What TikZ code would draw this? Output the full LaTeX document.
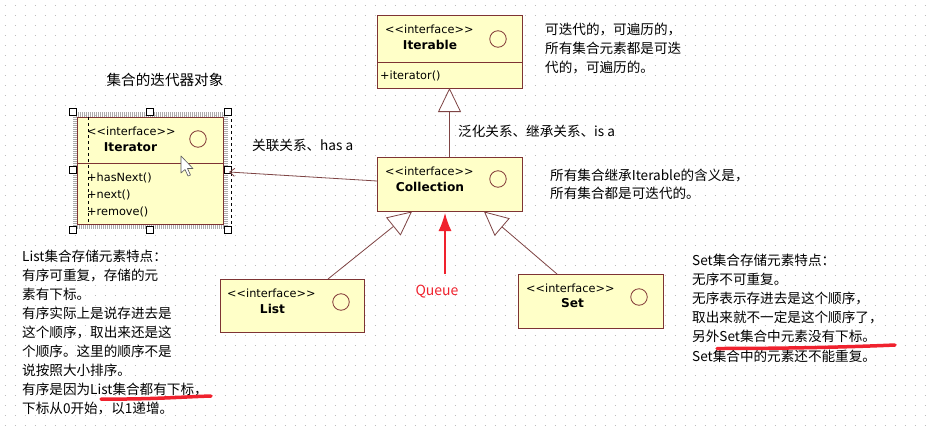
\documentclass[tikz,border=0pt]{standalone}
\usepackage{fontspec}
\newfontfamily\cjk{Noto Sans CJK SC}
\newfontfamily\umlf{DejaVu Sans}
\usetikzlibrary{arrows.meta}
\definecolor{boxfill}{HTML}{FFFFC8}
\definecolor{boxline}{HTML}{7E3434}
\definecolor{conn}{HTML}{7E4444}
\definecolor{redmark}{HTML}{F0222E}
\definecolor{dotc}{HTML}{BEBEBE}
\tikzset{
  umlbox/.style={draw=boxline, fill=boxfill, line width=0.9pt, inner sep=0pt, anchor=north west},
  stereo/.style={font=\umlf\fontsize{11.3}{13}\selectfont, inner sep=0pt, anchor=base west},
  cname/.style={font=\umlf\bfseries\fontsize{12.2}{14}\selectfont, inner sep=0pt, anchor=base},
  meth/.style={font=\umlf\fontsize{11.3}{13}\selectfont, inner sep=0pt, anchor=base west},
  icon/.style={draw=boxline, line width=0.8pt, circle, minimum size=16.5pt, inner sep=0pt},
  note/.style={font=\cjk\fontsize{13.6}{19}\selectfont, inner sep=0pt, anchor=north west, align=left},
  lbl/.style={font=\cjk\fontsize{13.6}{16}\selectfont, inner sep=0pt, anchor=west},
  gen/.style={draw=conn, line width=0.8pt, -{Triangle[length=24pt,width=23pt,fill=white]}},
  handle/.style={draw=black, fill=white, line width=0.6pt, minimum size=7pt, inner sep=0pt},
}
\begin{document}
\begin{tikzpicture}[x=1pt,y=-1pt]
\useasboundingbox (0,0) rectangle (928,431);
\fill[white] (0,0) rectangle (928,431);
% dotted grid
\foreach \yy in {5,15,...,425}
  \draw[dotc, line width=1pt, dash pattern=on 1pt off 9pt] (4.5,\yy) -- (928,\yy);

% ===== Iterable =====
\node[umlbox, minimum width=145pt, minimum height=73pt] (iterable) at (377,15) {};
\draw[boxline, line width=0.9pt] (377,62) -- (522,62);
\node[stereo] (itbS) at (385,33.5) {<\kern0pt<interface>\kern0pt>};
\node[cname] (itbN) at (430,49.5) {Iterable};
\node[icon] (itbC) at (498,39) {};
\node[meth] (itbM) at (380,79.5) {+iterator()};

% ===== Iterator (selected) =====
\draw[gray!65, line width=4.5pt, dash pattern=on 1pt off 1pt] (75,114.5) rectangle (225.5,227);
\node[umlbox, minimum width=146pt, minimum height=107pt] (iterator) at (77,117) {};
\draw[boxline, line width=0.9pt] (77,163) -- (223,163);
\draw[black, line width=0.6pt, dashed] (88,117) -- (88,224);
\draw[black, line width=0.6pt, dashed] (231,113) -- (231,229);
\node[stereo] (itrS) at (87,135.5) {<\kern0pt<interface>\kern0pt>};
\node[cname] (itrN) at (130.5,151.5) {Iterator};
\node[icon] (itrC) at (198,139) {};
\node[meth] (itrM1) at (87,181.5) {+hasNext()};
\node[meth] (itrM2) at (87,198.5) {+next()};
\node[meth] (itrM3) at (87,215.5) {+remove()};
\foreach \hx/\hy/\hn in {73/112/h1,150/112/h2,228/112/h3,73/170/h4,228/170/h5,73/230/h6,150/230/h7,228/230/h8}
  \node[handle] (\hn) at (\hx,\hy) {};
% mouse cursor
\draw[fill=white, draw=gray!70!black, line width=0.6pt, line join=round]
  (181,156) -- (181,173) -- (185,169.5) -- (188,176) -- (190.5,175) -- (187.5,168.5) -- (193,168.5) -- cycle;

% ===== Collection =====
\node[umlbox, minimum width=145pt, minimum height=54pt] (coll) at (377,157) {};
\node[stereo] (colS) at (385,175.5) {<\kern0pt<interface>\kern0pt>};
\node[cname] (colN) at (430,191.5) {Collection};
\node[icon] (colC) at (498,179) {};

% ===== List =====
\node[umlbox, minimum width=144pt, minimum height=53pt] (list) at (220,279) {};
\node[stereo] (lstS) at (227,297.5) {<\kern0pt<interface>\kern0pt>};
\node[cname] (lstN) at (272.5,313.5) {List};
\node[icon] (lstC) at (341,302) {};

% ===== Set =====
\node[umlbox, minimum width=145pt, minimum height=54pt] (set) at (518,274) {};
\node[stereo] (setS) at (526,292.5) {<\kern0pt<interface>\kern0pt>};
\node[cname] (setN) at (572.5,307.5) {Set};
\node[icon] (setC) at (639,297) {};

% ===== connectors =====
\coordinate (colTop) at (449.5,157);
\coordinate (itbBot) at (449.5,88);
\draw[gen] (colTop) -- (itbBot);

\coordinate (lstTop) at (328,279);
\coordinate (colBL) at (412,211.5);
\draw[gen] (lstTop) -- (colBL);

\coordinate (setTop) at (557,274);
\coordinate (colBR) at (484,211.5);
\draw[gen] (setTop) -- (colBR);

\coordinate (assocA) at (377,181);
\coordinate (assocB) at (229,172);
\draw[conn, line width=0.8pt, -{Straight Barb[length=5pt,width=8pt]}] (assocA) -- (assocB);

% Queue red arrow
\node[font=\cjk\fontsize{14}{16}\selectfont, text=redmark, inner sep=0pt] (queue) at (437,292) {Queue};
\coordinate (qTail) at (445,274);
\coordinate (qTip) at (445,213);
\draw[redmark, line width=1.3pt, -{Latex[length=18pt,width=13pt]}] (qTail) -- (qTip);

% ===== labels =====
\node[font=\cjk\fontsize{14.6}{17}\selectfont, inner sep=0pt] (itrTitle) at (165,80) {集合的迭代器对象};
\node[lbl] (assocL) at (252,145) {关联关系、has a};
\node[lbl] (genL) at (458,131) {泛化关系、继承关系、is a};

\node[note] (n1) at (545,22.5) {可迭代的，可遍历的，\\所有集合元素都是可迭\\代的，可遍历的。};
\node[note, font=\cjk\fontsize{13.6}{18.5}\selectfont] (n2) at (550,168.5) {所有集合继承Iterable的含义是，\\所有集合都是可迭代的。};
\node[note, font=\cjk\fontsize{13.6}{19.1}\selectfont] (n3) at (22,249.5) {List集合存储元素特点：\\有序可重复，存储的元\\素有下标。\\有序实际上是说存进去是\\这个顺序，取出来还是这\\个顺序。这里的顺序不是\\说按照大小排序。\\有序是因为List集合都有下标，\\下标从0开始，以1递增。};
\node[note, font=\cjk\fontsize{13.6}{19.2}\selectfont] (n4) at (692,253.5) {Set集合存储元素特点：\\无序不可重复。\\无序表示存进去是这个顺序，\\取出来就不一定是这个顺序了，\\另外Set集合中元素没有下标。\\Set集合中的元素还不能重复。};

% red underlines
\draw[redmark, line width=3.5pt, line cap=round] (101,399) .. controls (150,399.5) and (180,397) .. (211,396);
\draw[redmark, line width=3.5pt, line cap=round] (717,348.5) .. controls (790,348.5) and (850,347) .. (895,345);
\end{tikzpicture}
\end{document}
